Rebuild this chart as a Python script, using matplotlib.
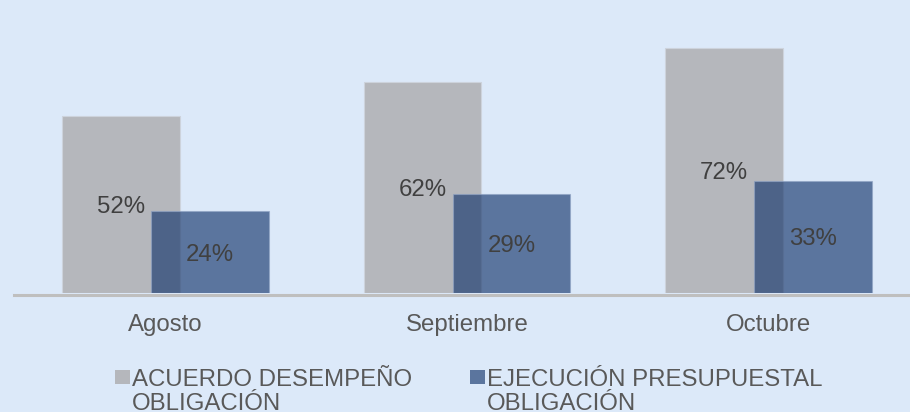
import matplotlib.pyplot as plt
from matplotlib.patches import Rectangle
import numpy as np

# datos del grafico
meses = ['Agosto', 'Septiembre', 'Octubre']
acuerdo = [52, 62, 72]
ejecucion = [24, 29, 33]
etiquetas = ['ACUERDO DESEMPEÑO\nOBLIGACIÓN', 'EJECUCIÓN PRESUPUESTAL\nOBLIGACIÓN']

FONDO = '#DCE9F9'
GRIS = '#B5B7BC'
AZUL = '#16376D'
TEXTO = '#404040'
TEXTO_EJE = '#595959'
FS = 17.3

plt.rcParams['font.family'] = ['Liberation Sans', 'DejaVu Sans']

W, H = 910, 412
fig = plt.figure(figsize=(W / 100, H / 100), dpi=100)
fig.patch.set_facecolor(FONDO)

# eje: base a y=293 px, de x=14 px hasta el borde derecho
ax = fig.add_axes([14 / W, (H - 293) / H, 1 - 14 / W, 293 / H])
ax.set_facecolor(FONDO)

x = np.arange(len(meses))
ancho = 0.39
desp = 0.1475

ax.bar(x - desp, acuerdo, width=ancho, color=GRIS,
       edgecolor='#CDD3DC', linewidth=0.8, zorder=2)
ax.bar(x + desp, ejecucion, width=ancho, color=AZUL, alpha=0.65,
       edgecolor='#8FA3C4', linewidth=0.8, zorder=3)

# etiquetas de datos en el centro de cada barra
for xi, v in zip(x - desp, acuerdo):
    ax.text(xi, v / 2, f'{v}%', ha='center', va='center_baseline',
            fontsize=FS, color=TEXTO, zorder=5)
for xi, v in zip(x + desp, ejecucion):
    ax.text(xi, v / 2, f'{v}%', ha='center', va='center_baseline',
            fontsize=FS, color=TEXTO, zorder=5)

ax.set_xlim(-0.5 + (14 - 14.75) / 301.5, (910 - 165.5) / 301.5)
ax.set_ylim(0, 293 / 3.4)

for s in ['top', 'right', 'left']:
    ax.spines[s].set_visible(False)
ax.spines['bottom'].set_color('#BFBFBF')
ax.spines['bottom'].set_linewidth(2.2)
ax.spines['bottom'].set_position(('outward', 1.1))
ax.spines['bottom'].set_zorder(1)

ax.set_yticks([])
ax.set_xticks(x)
ax.set_xticklabels(meses, fontsize=FS, color=TEXTO_EJE)
ax.tick_params(axis='x', length=0, pad=14)

# leyenda dibujada a mano
leyenda_x = [115, 470]
colores = [GRIS, AZUL]
alphas = [1.0, 0.65]
for lx, lab, c, a in zip(leyenda_x, etiquetas, colores, alphas):
    fig.patches.append(Rectangle((lx / W, (H - 384) / H), 14.5 / W, 14 / H,
                                 transform=fig.transFigure, facecolor=c,
                                 alpha=a, edgecolor='none'))
    # va='baseline' con varias lineas alinea la ultima linea
    fig.text((lx + 17) / W, (H - 410) / H, lab, ha='left', va='baseline',
             fontsize=FS, color=TEXTO_EJE, linespacing=1.13)

plt.savefig('out.png', dpi=100, facecolor=FONDO)
